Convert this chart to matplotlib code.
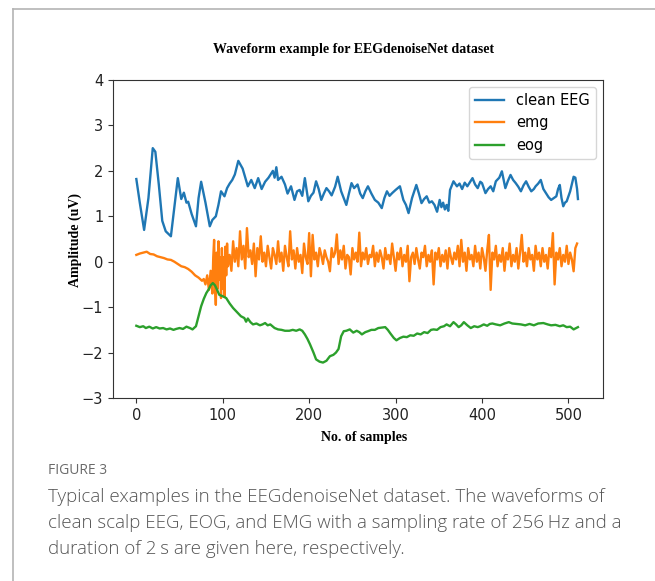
import numpy as np
import matplotlib
matplotlib.use("Agg")
from matplotlib import pyplot as plt
from matplotlib.lines import Line2D

# clean EEG (sample, amplitude)
eeg_pts = [
    (0, 1.82), (4, 1.3), (9, 0.7), (14, 1.4), (19, 2.5), (22, 2.42), (26, 1.7), (30, 0.9),
    (34, 0.67), (40, 0.56), (44, 1.2), (48, 1.84), (52, 1.38), (55, 1.52), (58, 1.3), (60, 1.32),
    (64, 1.05), (69, 0.78), (72, 1.4), (75, 1.76), (80, 1.3), (85, 0.78), (88, 0.92), (92, 1.0),
    (95, 1.25), (98, 1.55), (102, 1.44), (105, 1.62), (108, 1.72), (111, 1.8), (114, 1.92),
    (118, 2.22), (123, 2.05), (129, 1.66), (133, 1.8), (137, 1.62), (141, 1.84), (145, 1.6),
    (149, 1.76), (153, 1.85), (158, 2.0), (160, 1.85), (162, 2.08), (164, 1.8), (168, 1.87),
    (172, 1.7), (175, 1.5), (179, 1.66), (183, 1.36), (186, 1.55), (189, 1.58), (192, 1.45),
    (195, 1.84), (199, 1.33), (202, 1.45), (205, 1.52), (208, 1.77), (211, 1.6), (214, 1.36),
    (217, 1.5), (220, 1.62), (223, 1.55), (226, 1.46), (230, 1.65), (233, 1.87), (237, 1.55),
    (240, 1.4), (243, 1.25), (246, 1.5), (249, 1.73), (252, 1.62), (256, 1.7), (259, 1.5),
    (262, 1.4), (265, 1.55), (268, 1.66), (272, 1.5), (276, 1.36), (280, 1.3), (284, 1.18),
    (287, 1.4), (290, 1.55), (293, 1.45), (296, 1.51), (300, 1.58), (305, 1.66), (309, 1.36),
    (312, 1.25), (315, 1.07), (319, 1.4), (324, 1.69), (327, 1.5), (330, 1.29), (333, 1.38),
    (336, 1.44), (339, 1.3), (342, 1.33), (345, 1.25), (348, 1.1), (351, 1.36), (353, 1.2),
    (355, 1.3), (357, 1.15), (359, 1.25), (361, 1.12), (363, 1.58), (367, 1.77), (371, 1.66),
    (374, 1.72), (377, 1.6), (380, 1.74), (383, 1.66), (386, 1.75), (389, 1.84), (392, 1.7),
    (395, 1.62), (398, 1.76), (400, 1.73), (404, 1.51), (407, 1.6), (410, 1.66), (413, 1.55),
    (416, 1.77), (420, 1.85), (423, 1.99), (427, 1.62), (430, 1.78), (433, 1.91), (436, 1.8),
    (439, 1.73), (442, 1.65), (445, 1.55), (448, 1.68), (451, 1.77), (454, 1.65), (457, 1.55),
    (460, 1.6), (462, 1.66), (465, 1.72), (468, 1.8), (471, 1.6), (474, 1.51), (477, 1.42),
    (480, 1.36), (483, 1.4), (486, 1.44), (488, 1.6), (490, 1.69), (492, 1.4), (494, 1.22),
    (496, 1.3), (498, 1.33), (502, 1.55), (506, 1.87), (508, 1.85), (510, 1.6), (511, 1.38),
]

# emg: slow drift, burst around sample 90, then noise (every 2nd sample from 108)
emg_head = [
    (0, 0.15), (4, 0.18), (8, 0.2), (12, 0.22), (16, 0.17), (20, 0.16), (24, 0.12), (28, 0.1),
    (32, 0.08), (36, 0.05), (40, 0.04), (44, 0.0), (48, -0.05), (52, -0.1), (56, -0.12),
    (60, -0.16), (64, -0.22), (68, -0.3), (72, -0.35), (76, -0.42), (78, -0.38), (80, -0.5),
    (82, -0.3), (84, -0.62), (86, -0.2), (88, -0.7), (89, 0.1), (90, 0.48), (91, -0.5),
    (92, -0.95), (93, 0.2), (94, -0.6), (95, 0.45), (96, -0.4), (97, 0.1), (98, -0.8),
    (99, 0.3), (100, -0.6), (101, 0.1), (102, -0.77), (103, 0.33), (104, -0.3), (105, 0.4),
    (106, -0.1),
]
emg_tail_start = 108
emg_tail = [
    0.15, -0.2, 0.45, 0.0, 0.3, -0.1, 0.67, 0.05, 0.35, -0.15, 0.74, 0.1, 0.25, -0.05, 0.4,
    -0.32, 0.3, 0.05, 0.56, 0.0, 0.2, -0.1, 0.35, 0.1, -0.15, 0.3, 0.15, -0.05, 0.45, 0.0,
    0.2, -0.2, 0.35, 0.1, -0.1, 0.67, 0.05, 0.25, -0.15, 0.3, 0.0, 0.15, -0.25, 0.4, 0.1,
    -0.05, 0.63, -0.32, 0.59, 0.05, 0.2, -0.1, 0.3, 0.15, -0.05, 0.25, 0.1, 0.0, -0.21, 0.3,
    0.1, 0.2, 0.6, -0.05, 0.25, 0.05, 0.35, -0.15, 0.15, 0.1, -0.28, 0.3, 0.05, 0.2, 0.0,
    0.64, -0.1, 0.2, 0.05, 0.3, -0.05, 0.15, 0.1, 0.35, -0.1, 0.2, 0.0, 0.25, 0.1, -0.15,
    0.3, 0.05, 0.15, -0.05, 0.4, 0.1, -0.2, 0.2, 0.05, 0.3, -0.1, 0.15, 0.0, 0.35, -0.43,
    0.1, 0.2, -0.05, 0.3, 0.05, -0.15, 0.2, 0.1, 0.35, -0.1, 0.15, 0.0, 0.25, -0.5, 0.2,
    0.05, 0.3, -0.1, 0.15, 0.0, 0.25, -0.15, 0.3, 0.1, -0.05, 0.2, 0.05, 0.35, -0.1, 0.48,
    0.0, 0.2, -0.2, 0.3, 0.05, 0.15, -0.1, 0.35, 0.0, 0.2, -0.15, 0.3, 0.1, -0.2, 0.25,
    0.59, -0.62, 0.2, 0.05, 0.35, -0.1, 0.15, 0.0, 0.3, -0.2, 0.2, 0.05, 0.4, -0.1, 0.15,
    0.0, 0.3, -0.15, 0.2, 0.59, 0.0, 0.2, -0.1, 0.3, 0.05, 0.15, -0.2, 0.35, 0.05, 0.2,
    -0.1, 0.3, 0.0, 0.15, -0.15, 0.3, 0.1, 0.63, -0.5, 0.2, 0.05, 0.3, -0.1, 0.15, 0.0,
    0.35, -0.05, 0.2, 0.05, -0.21, 0.3, 0.4,
]

# eog (sample, amplitude)
eog_pts = [
    (0, -1.41), (4, -1.44), (8, -1.42), (11, -1.46), (15, -1.43), (19, -1.47), (23, -1.44),
    (27, -1.47), (31, -1.46), (35, -1.49), (39, -1.47), (43, -1.5), (46, -1.48), (50, -1.46),
    (54, -1.48), (58, -1.43), (62, -1.46), (65, -1.49), (69, -1.42), (72, -1.2), (75, -0.98),
    (78, -0.82), (81, -0.69), (84, -0.6), (86, -0.52), (88.5, -0.47), (91, -0.52), (93, -0.6),
    (96, -0.73), (100, -0.76), (104, -0.8), (108, -0.92), (112, -1.02), (116, -1.1),
    (121, -1.2), (125, -1.24), (127, -1.32), (129, -1.25), (132, -1.33), (135, -1.38),
    (139, -1.36), (143, -1.4), (146, -1.38), (149, -1.35), (152, -1.4), (155, -1.38),
    (160, -1.46), (164, -1.49), (168, -1.5), (172, -1.52), (177, -1.52), (181, -1.5),
    (185, -1.52), (189, -1.49), (192, -1.52), (195, -1.6), (198, -1.7), (201, -1.82),
    (205, -2.0), (208, -2.15), (212, -2.2), (216, -2.22), (220, -2.18), (224, -2.08),
    (228, -2.05), (231, -2.0), (234, -1.92), (237, -1.64), (240, -1.53), (243, -1.52),
    (247, -1.49), (251, -1.56), (255, -1.52), (258, -1.55), (261, -1.6), (265, -1.55),
    (268, -1.53), (272, -1.5), (276, -1.5), (280, -1.46), (284, -1.45), (288, -1.44),
    (291, -1.5), (294, -1.58), (298, -1.68), (301, -1.73), (305, -1.68), (309, -1.65),
    (313, -1.66), (317, -1.62), (321, -1.63), (325, -1.58), (329, -1.6), (333, -1.55),
    (337, -1.57), (341, -1.5), (344, -1.49), (348, -1.5), (352, -1.44), (356, -1.42),
    (359, -1.38), (363, -1.42), (367, -1.33), (370, -1.38), (373, -1.44), (376, -1.4),
    (379, -1.33), (383, -1.4), (387, -1.46), (391, -1.42), (395, -1.44), (398, -1.42),
    (402, -1.38), (406, -1.41), (409, -1.37), (412, -1.36), (416, -1.38), (421, -1.4),
    (426, -1.36), (431, -1.33), (435, -1.36), (440, -1.37), (445, -1.38), (450, -1.4),
    (455, -1.37), (460, -1.4), (465, -1.36), (471, -1.35), (476, -1.38), (480, -1.4),
    (485, -1.39), (490, -1.42), (494, -1.4), (498, -1.44), (502, -1.43), (506, -1.49),
    (509, -1.46), (511, -1.44),
]

labels = ["clean EEG", "emg", "eog"]
title = "Waveform example for EEGdenoiseNet dataset"
caption_head = "FIGURE 3"
caption_lines = [
    "Typical examples in the EEGdenoiseNet dataset. The waveforms of",
    "clean scalp EEG, EOG, and EMG with a sampling rate of 256\u2009Hz and a",
    "duration of 2\u2009s are given here, respectively.",
]

eeg_x, eeg_y = zip(*eeg_pts)
hx, hy = zip(*emg_head)
emg_x = list(hx) + list(emg_tail_start + 2 * np.arange(len(emg_tail)))
emg_y = list(hy) + emg_tail
eog_x, eog_y = zip(*eog_pts)

fig = plt.figure(figsize=(6.55, 5.81), dpi=100)
ax = fig.add_axes([113 / 655, 1 - 398 / 581, 490 / 655, 318 / 581])

ax.plot(eeg_x, eeg_y, color="#1f77b4", lw=1.7, label=labels[0])
ax.plot(emg_x, emg_y, color="#ff7f0e", lw=1.7, label=labels[1])
ax.plot(eog_x, eog_y, color="#2ca02c", lw=1.7, label=labels[2])

ax.set_xlim(-27, 540)
ax.set_ylim(-3, 4)
ax.set_yticks(range(-3, 5))
ax.set_xticks(range(0, 501, 100))
ax.tick_params(labelsize=10.5, colors="#333333", labelcolor="#222222")
for s in ax.spines.values():
    s.set_color("#333333")

serif = {"family": "Liberation Serif", "weight": "bold", "size": 10}
fig.text(354 / 655, 1 - 49 / 581, title, ha="center", va="center", fontdict=serif)
fig.text(364 / 655, 1 - 438 / 581, "No. of samples", ha="center", va="center", fontdict=serif)
fig.text(75 / 655, 1 - 240 / 581, "Amplitude (uV)", ha="center", va="center",
         rotation=90, fontdict=serif)

ax.legend(loc="upper right", fontsize=10.5, handlelength=2.0)

# frame of the figure panel
fig.add_artist(Line2D([13 / 655, 1], [1 - 9 / 581, 1 - 9 / 581], color="#b4b4b4", lw=1.2))
fig.add_artist(Line2D([13 / 655, 13 / 655], [0, 1 - 9 / 581], color="#b4b4b4", lw=1.2))

fig.text(48 / 655, 1 - 470 / 581, caption_head, ha="left", va="center",
         family="Open Sans", fontsize=10, color="#6a6a6a")
for i, line in enumerate(caption_lines):
    fig.text(48 / 655, 1 - (497 + 25.8 * i) / 581, line, ha="left", va="center",
             family="Open Sans", weight="light", fontsize=13.5, color="#555555")

fig.savefig("out.png", dpi=100)
